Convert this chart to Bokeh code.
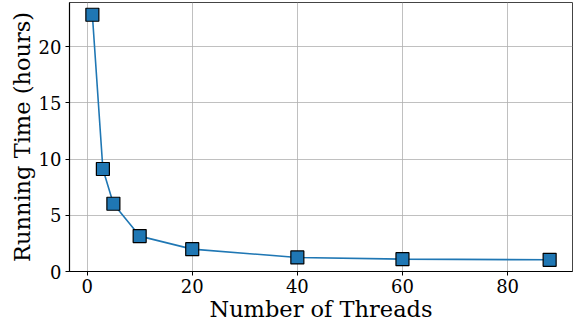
from bokeh.plotting import figure
from bokeh.models import Range1d, FixedTicker
from bokeh.embed import file_html
from bokeh.resources import INLINE

threads = [1, 3, 5, 10, 20, 40, 60, 88]
hours = [22.85, 9.12, 6.03, 3.15, 1.99, 1.25, 1.10, 1.04]
x_ticks = [0, 20, 40, 60, 80]
y_ticks = [0, 5, 10, 15, 20]

FONT = "DejaVu Serif"

p = figure(width=579, height=324, output_backend="svg", toolbar_location=None,
           x_range=Range1d(-3.35, 92.35), y_range=Range1d(0, 23.94))
p.min_border_left = 69
p.min_border_right = 7
p.min_border_top = 2
p.min_border_bottom = 53

p.line(threads, hours, line_color="#1f77b4", line_width=1.6)
p.scatter(threads, hours, marker="square", size=13, fill_color="#1f77b4",
          line_color="black", line_width=1.2)

p.xaxis.ticker = FixedTicker(ticks=x_ticks)
p.yaxis.ticker = FixedTicker(ticks=y_ticks)
p.xaxis.axis_label = "Number of Threads"
p.yaxis.axis_label = "Running Time (hours)"
for ax in (p.xaxis, p.yaxis):
    ax.axis_label_text_font = FONT
    ax.axis_label_text_font_style = "normal"
    ax.axis_label_text_font_size = "22.5px"
    ax.axis_label_text_color = "black"
    ax.major_label_text_font = FONT
    ax.major_label_text_font_size = "18px"
    ax.major_label_text_color = "black"
    ax.minor_tick_line_color = None
    ax.major_tick_in = 0
    ax.major_tick_out = 4
    ax.major_tick_line_color = "black"
    ax.axis_line_color = "black"
    ax.axis_line_width = 1.2
p.xaxis.axis_label_standoff = 0
p.yaxis.axis_label_standoff = 1
p.xaxis.major_label_standoff = 3
p.yaxis.major_label_standoff = 4

p.xgrid.ticker = FixedTicker(ticks=x_ticks)
p.ygrid.ticker = FixedTicker(ticks=y_ticks)
p.grid.grid_line_color = "#b0b0b0"
p.grid.grid_line_width = 0.8

p.outline_line_color = "#444444"
p.outline_line_width = 1.0
p.background_fill_color = "white"
p.border_fill_color = "white"

open("out.html", "w").write(file_html(p, INLINE))
